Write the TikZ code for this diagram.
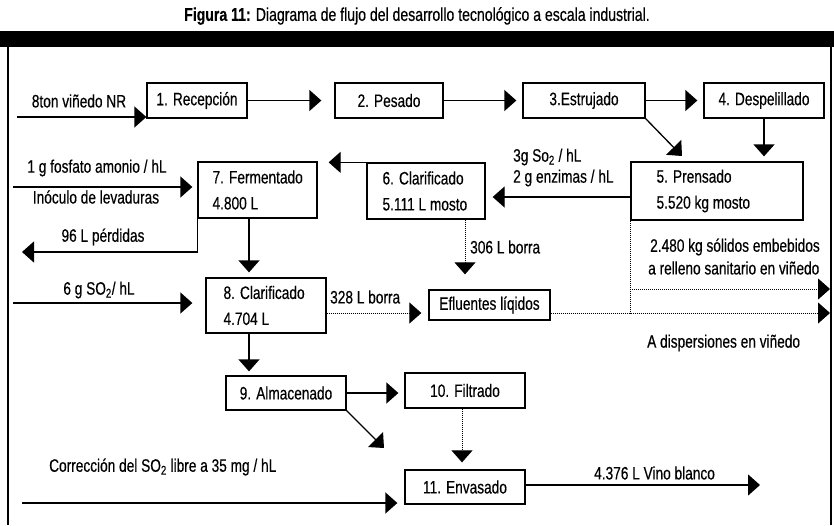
\documentclass[tikz,border=0pt]{standalone}
\usepackage{fontspec}
\setmainfont{Liberation Sans}[FakeStretch=0.76,FakeBold=0.4]
\usetikzlibrary{arrows.meta}
\begin{document}
\begin{tikzpicture}[x=1pt,y=-1pt,font=\fontsize{18}{26}\selectfont,
  box/.style={draw,line width=1.3pt,inner sep=0pt,minimum height=35pt},
  lab/.style={inner sep=0pt},
  txt/.style={inner sep=0pt,align=left,anchor=west},
  con/.style={line width=1.3pt,-{Triangle[length=12pt,width=21pt]}},
  dln/.style={line width=1pt,dash pattern=on 1pt off 1pt},
  dcon/.style={dln,-{Triangle[length=12pt,width=21pt]}}]
\useasboundingbox (0,0) rectangle (834,525);
% frame
\fill (0,31) rectangle (834,47);
\draw[line width=1.3pt] (8,47) -- (8,525);
\draw[line width=1.3pt] (831,47) -- (831,525);
\node[lab,font=\fontsize{18.5}{22}\selectfont] (title) at (417,16) {\textbf{Figura 11:} Diagrama de flujo del desarrollo tecnológico a escala industrial.};
% boxes
\node[box,minimum width=100pt] (b1) at (197,100.5) {1. Recepción};
\node[box,minimum width=108pt] (b2) at (389,100.5) {2. Pesado};
\node[box,minimum width=122pt] (b3) at (584,100.5) {3.Estrujado};
\node[box,minimum width=120pt] (b4) at (764,100.5) {4. Despelillado};
\node[box,minimum width=172pt,minimum height=58pt] (b5) at (717,191) {};
\node[txt] (t5) at ([xshift=26pt]b5.west) {5. Prensado\\5.520 kg mosto};
\node[box,minimum width=118pt,minimum height=56pt] (b6) at (426,191) {};
\node[txt] (t6) at ([xshift=16pt]b6.west) {6. Clarificado\\5.111 L mosto};
\node[box,minimum width=119pt,minimum height=56pt] (b7) at (257.5,190) {};
\node[txt] (t7) at ([xshift=15pt]b7.west) {7. Fermentado\\4.800 L};
\node[box,minimum width=120pt,minimum height=55pt] (b8) at (266,305.5) {};
\node[txt] (t8) at ([xshift=18pt]b8.west) {8. Clarificado\\4.704 L};
\node[box,minimum width=121pt,minimum height=30pt] (ef) at (489.5,305) {Efluentes líqidos};
\node[box,minimum width=120pt,minimum height=34pt] (b9) at (286,393) {9. Almacenado};
\node[box,minimum width=120pt] (b10) at (465,390.5) {10. Filtrado};
\node[box,minimum width=120pt,minimum height=34pt] (b11) at (465,487) {11. Envasado};
% top row
\coordinate (s1) at (17,117);
\draw[con] (s1) -- (s1 -| b1.west);
\node[lab] (l1) at (79,101) {8ton viñedo NR};
\draw[con] (b1.east) -- ([xshift=-13pt]b2.west);
\draw[con] (b2.east) -- ([xshift=-6pt]b3.west);
\draw[con] (b3.east) -- ([xshift=-6pt]b4.west);
\coordinate (a45) at ([yshift=5pt]b5.north);
\draw[con] (b4.south) -- (b4.south |- a45);
\coordinate (d1) at (682,156);
\draw[con] (b3.south east) -- (d1);
% second row
\draw[con] ([yshift=-6pt]b5.west) -- ([xshift=7pt,yshift=-6pt]b6.east);
\node[txt] (l5a) at (513,157) {3g So\textsubscript{2} / hL};
\node[txt] (l5b) at (513,178) {2 g enzimas / hL};
\coordinate (a67) at ([xshift=11pt]b7.north east);
\draw[con] (b6.north west) -- (a67 |- b6.north west);
\coordinate (s7) at (13,187);
\draw[con] (s7) -- ([xshift=-5pt]s7 -| b7.west);
\node[lab] (l7a) at (97,168) {1 g fosfato amonio / hL};
\node[lab] (l7b) at (96,197) {Inóculo de levaduras};
\coordinate (p7) at (22,252);
\draw[con] (b7.south west) |- (p7);
\node[lab] (l7c) at (103,237) {96 L pérdidas};
\coordinate (x78) at ([xshift=-8.5pt]b7.south);
\coordinate (a78) at ([yshift=5pt]b8.north);
\draw[con] (x78) -- (x78 |- a78);
% third row
\coordinate (s8) at (13,303);
\draw[con] (s8) -- ([xshift=-13pt]s8 -| b8.west);
\node[lab] (l8a) at (99,290) {6 g SO\textsubscript{2}/ hL};
\coordinate (x6) at ([xshift=39pt]b6.south);
\coordinate (a6e) at ([yshift=15pt]ef.north);
\draw[dcon] (x6) -- (x6 |- a6e);
\node[txt] (l6) at (470,247) {306 L borra};
\coordinate (c813) at ([yshift=-7.5pt]b8.east);
\draw[dcon] (c813) -- ([xshift=-7pt]c813 -| ef.west);
\node[txt] (l8b) at (330,297) {328 L borra};
\coordinate (ee) at (830,313);
\draw[dcon] (c813 -| ef.east) -- (ee);
\draw[dln] (b5.south west) -- (b5.south west |- ee);
\coordinate (ee2) at (830,289);
\draw[dcon] (b5.south west |- ee2) -- (ee2);
\node[txt] (l5c) at (650,247) {2.480 kg sólidos embebidos};
\node[txt] (l5d) at (648,268) {a relleno sanitario en viñedo};
\node[txt] (l5e) at (647,343) {A dispersiones en viñedo};
% bottom
\coordinate (a89) at ([yshift=4pt]b9.north);
\draw[con] (x78 |- b8.south) -- (x78 |- a89);
\draw[con] (b9.east) -- ([xshift=-6pt]b9.east -| b10.west);
\coordinate (d2) at (384,448);
\draw[con] (b9.south east) -- (d2);
\coordinate (x10) at ([xshift=-3pt]b10.south);
\coordinate (a1011) at ([yshift=7pt]b11.north);
\draw[dcon] (x10) -- (x10 |- a1011);
\coordinate (s11) at (22,503);
\draw[con] (s11) -- ([xshift=-7pt]s11 -| b11.west);
\node[txt] (l11a) at (49,467) {Corrección del SO\textsubscript{2} libre a 35 mg / hL};
\coordinate (o11) at (760,485);
\draw[con] (b11.east |- o11) -- (o11);
\node[txt] (l11b) at (594,473) {4.376 L Vino blanco};
\end{tikzpicture}
\end{document}
